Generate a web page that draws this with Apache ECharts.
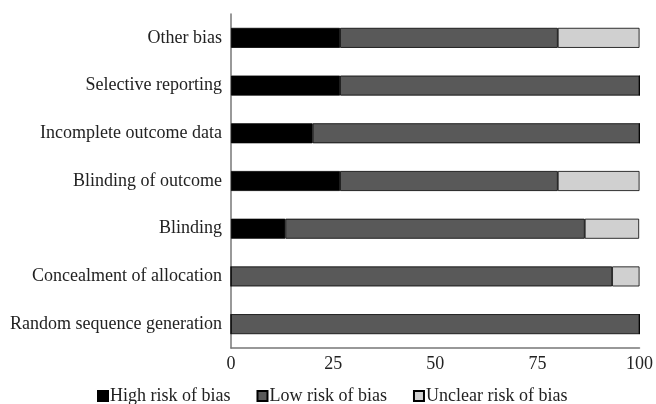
<!DOCTYPE html>
<html><head><meta charset="utf-8">
<script src="https://cdn.jsdelivr.net/npm/echarts@6/dist/echarts.min.js"></script>
<style>html,body{margin:0;padding:0;background:#fff}#c{width:656px;height:404px}</style>
</head><body><div id="c"></div>
<script>
const categories = ['Random sequence generation','Concealment of allocation','Blinding','Blinding of outcome','Incomplete outcome data','Selective reporting','Other bias'];
const highRisk = [0, 0, 13.3, 26.7, 20, 26.7, 26.7];
const lowRisk = [100, 93.3, 73.3, 53.3, 80, 73.3, 53.3];
const unclearRisk = [0, 6.7, 13.3, 20, 0, 0, 20];
const xTicks = [0, 25, 50, 75, 100];

const font = 'Liberation Serif, Times New Roman, serif';
function mk(name, data, color) {
  return {name, type:'bar', stack:'a', data, barWidth:20,
    itemStyle:{color, borderColor:'#000', borderWidth:0.8}};
}
const chart = echarts.init(document.getElementById('c'));
chart.setOption({
  animation:false,
  grid:{left:231, right:15, top:14, bottom:56, containLabel:false},
  xAxis:{type:'value', min:0, max:100, interval:25,
    axisLine:{show:true, lineStyle:{color:'#777', width:1.5}},
    axisTick:{show:false}, splitLine:{show:false},
    axisLabel:{fontFamily:font, fontSize:18, color:'#222', margin:7,
      formatter:v=>xTicks.includes(v)?String(v):''}},
  yAxis:{type:'category', data:categories,
    axisLine:{show:true, lineStyle:{color:'#777', width:1.5}},
    axisTick:{show:false},
    axisLabel:{fontFamily:font, fontSize:18, color:'#222', margin:9}},
  legend:{bottom:-6, left:92, itemWidth:10, itemHeight:10, itemGap:26,
    icon:'rect',
    textStyle:{fontFamily:font, fontSize:18, color:'#222', padding:[0,0,0,-3]}},
  series:[mk('High risk of bias', highRisk, '#000'),
          mk('Low risk of bias', lowRisk, '#595959'),
          mk('Unclear risk of bias', unclearRisk, '#d0d0d0')]
});
</script></body></html>
